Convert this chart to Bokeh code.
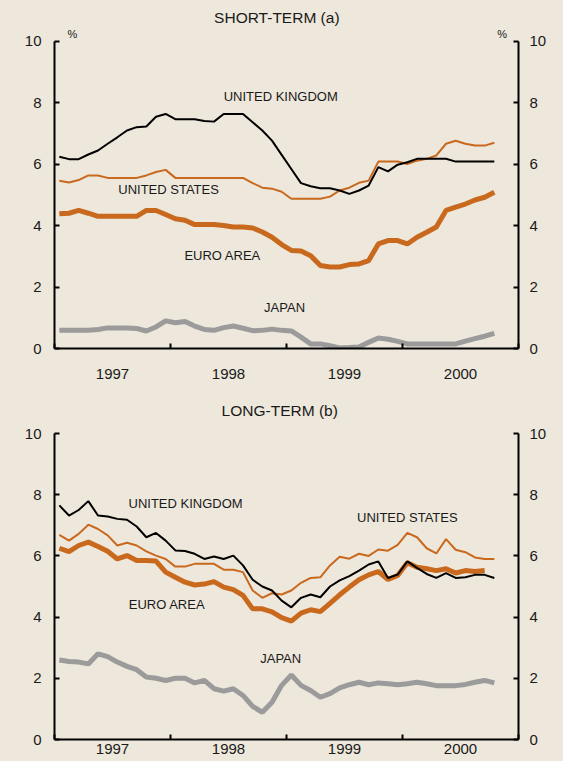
import pandas as pd
from bokeh.plotting import figure
from bokeh.models import Range1d, LinearAxis, FixedTicker, Label
from bokeh.layouts import column
from bokeh.embed import file_html
from bokeh.resources import INLINE

# ---------------- data ----------------
months = pd.date_range("1997-01-01", "2000-10-01", freq="MS")  # monthly observations
years = [1997, 1998, 1999, 2000]
year_labels = ["1997", "1998", "1999", "2000"]
y_ticks = [0, 2, 4, 6, 8, 10]

# Short-term interest rates (%)
uk_short = [6.24, 6.16, 6.16, 6.31, 6.44, 6.66, 6.87, 7.09, 7.20, 7.22,
            7.54, 7.63, 7.46, 7.46, 7.46, 7.40, 7.38, 7.63, 7.63, 7.63,
            7.36, 7.09, 6.76, 6.30, 5.84, 5.38, 5.28, 5.21, 5.21, 5.14,
            5.03, 5.14, 5.30, 5.90, 5.76, 5.98, 6.06, 6.17, 6.17, 6.17,
            6.17, 6.08, 6.08, 6.08, 6.08, 6.08]
us_short = [5.46, 5.40, 5.48, 5.63, 5.63, 5.55, 5.55, 5.55, 5.55, 5.63,
            5.74, 5.81, 5.55, 5.55, 5.55, 5.55, 5.55, 5.55, 5.55, 5.55,
            5.38, 5.23, 5.20, 5.10, 4.87, 4.87, 4.87, 4.87, 4.94, 5.14,
            5.23, 5.39, 5.46, 6.08, 6.08, 6.08, 6.00, 6.11, 6.17, 6.28,
            6.66, 6.76, 6.66, 6.60, 6.60, 6.69]
euro_short = [4.38, 4.40, 4.49, 4.40, 4.30, 4.30, 4.30, 4.30, 4.30, 4.49,
              4.49, 4.36, 4.22, 4.17, 4.03, 4.03, 4.03, 4.00, 3.95, 3.95,
              3.92, 3.79, 3.62, 3.38, 3.19, 3.17, 3.02, 2.70, 2.65, 2.65,
              2.73, 2.75, 2.86, 3.40, 3.51, 3.51, 3.40, 3.62, 3.78, 3.95,
              4.49, 4.60, 4.70, 4.83, 4.92, 5.08]
japan_short = [0.59, 0.59, 0.59, 0.59, 0.62, 0.67, 0.67, 0.67, 0.65, 0.57,
               0.70, 0.90, 0.84, 0.88, 0.73, 0.62, 0.59, 0.68, 0.73, 0.66,
               0.58, 0.59, 0.63, 0.59, 0.57, 0.37, 0.15, 0.15, 0.09, 0.02,
               0.03, 0.05, 0.20, 0.34, 0.30, 0.23, 0.15, 0.15, 0.15, 0.15,
               0.15, 0.15, 0.24, 0.32, 0.40, 0.49]

# Long-term interest rates (%)
uk_long = [7.65, 7.32, 7.50, 7.79, 7.32, 7.29, 7.21, 7.18, 6.96, 6.61,
           6.75, 6.50, 6.18, 6.16, 6.07, 5.90, 5.98, 5.90, 6.01, 5.69,
           5.22, 5.00, 4.87, 4.54, 4.32, 4.63, 4.74, 4.65, 5.00, 5.20,
           5.34, 5.52, 5.72, 5.82, 5.28, 5.39, 5.82, 5.61, 5.41, 5.28,
           5.44, 5.28, 5.30, 5.38, 5.38, 5.28]
us_long = [6.69, 6.50, 6.72, 7.02, 6.88, 6.67, 6.34, 6.43, 6.34, 6.15,
           6.01, 5.90, 5.65, 5.65, 5.74, 5.74, 5.74, 5.55, 5.55, 5.47,
           4.87, 4.63, 4.78, 4.74, 4.87, 5.12, 5.28, 5.30, 5.69, 5.97,
           5.91, 6.07, 6.00, 6.21, 6.17, 6.36, 6.75, 6.61, 6.25, 6.08,
           6.55, 6.20, 6.12, 5.95, 5.90, 5.90]
euro_long = [6.25, 6.14, 6.34, 6.45, 6.31, 6.15, 5.90, 6.01, 5.85, 5.85,
             5.83, 5.47, 5.30, 5.14, 5.05, 5.08, 5.16, 4.98, 4.90, 4.71,
             4.27, 4.27, 4.17, 3.98, 3.87, 4.13, 4.24, 4.18, 4.45, 4.73,
             4.98, 5.22, 5.38, 5.49, 5.23, 5.36, 5.78, 5.63, 5.58, 5.52,
             5.58, 5.44, 5.52, 5.49, 5.52]
japan_long = [2.60, 2.55, 2.53, 2.47, 2.80, 2.71, 2.53, 2.39, 2.28, 2.04,
              2.00, 1.93, 2.00, 2.00, 1.85, 1.93, 1.66, 1.58, 1.66, 1.44,
              1.08, 0.89, 1.22, 1.77, 2.11, 1.77, 1.60, 1.38, 1.50, 1.69,
              1.79, 1.87, 1.79, 1.85, 1.82, 1.79, 1.82, 1.87, 1.82, 1.76,
              1.76, 1.76, 1.80, 1.87, 1.93, 1.85]

# ---------------- styles ----------------
BG = "#EEE7DB"
ORANGE = "#C8691E"
GREY = "#9B9B9B"
BLACK = "#000000"
TXT = "#1a1a1a"
FONT = "Liberation Sans"

# month index (mid-month) from Jan 1997
xm = [(d.year - 1997) * 12 + (d.month - 1) + 0.5 for d in months]
mid_year = [(y - 1997) * 12 + 6 for y in years]
year_bounds = [(y - 1997) * 12 for y in years + [years[-1] + 1]]


def make_panel(height, y_top, b_left, b_right, b_bottom, xstand):
    # frame runs to the top of the figure; axes are drawn only from 0 to 10
    p = figure(width=563, height=height, x_range=Range1d(0, 48), y_range=Range1d(0, y_top),
               output_backend="svg", toolbar_location=None,
               background_fill_color=BG, border_fill_color=BG,
               min_border_left=b_left, min_border_right=b_right,
               min_border_top=0, min_border_bottom=b_bottom,
               outline_line_color=None)
    p.grid.visible = False
    xa = p.xaxis[0]
    xa.ticker = FixedTicker(ticks=mid_year, minor_ticks=year_bounds)
    xa.major_label_overrides = {m: lab for m, lab in zip(mid_year, year_labels)}
    xa.major_tick_in = 0
    xa.major_tick_out = 0
    xa.minor_tick_in = 5
    xa.minor_tick_out = 0
    xa.minor_tick_line_width = 2
    xa.axis_line_width = 2
    xa.major_label_standoff = xstand
    xa.major_label_text_font_size = "15px"
    xa.major_label_text_font = FONT
    xa.major_label_text_color = TXT
    ya = p.yaxis[0]
    ra = LinearAxis()
    p.add_layout(ra, "right")
    for ax, st in ((ya, 13), (ra, 11)):
        ax.ticker = FixedTicker(ticks=y_ticks)
        ax.bounds = (y_ticks[0], y_ticks[-1])
        ax.major_tick_in = 5
        ax.major_tick_out = 0
        ax.minor_tick_in = 0
        ax.minor_tick_out = 0
        ax.major_tick_line_width = 2
        ax.axis_line_width = 2
        ax.major_label_standoff = st
        ax.major_label_text_font_size = "15px"
        ax.major_label_text_font = FONT
        ax.major_label_text_color = TXT
    return p


def add_series(p, xs, jp, eu, us, uk):
    p.line(xs[:len(jp)], jp, line_color=GREY, line_width=5)
    p.line(xs[:len(eu)], eu, line_color=ORANGE, line_width=5)
    p.line(xs[:len(us)], us, line_color=ORANGE, line_width=2)
    p.line(xs[:len(uk)], uk, line_color=BLACK, line_width=2)


def lab(p, x, y, text, size="13px"):
    p.add_layout(Label(x=x, y=y, text=text, text_align="center", text_baseline="middle",
                       text_font=FONT, text_font_size=size, text_color=TXT))


# ---------------- top panel ----------------
p1 = make_panel(392, 11.32, 49, 45, 44, 20)
add_series(p1, xm, japan_short, euro_short, us_short, uk_short)
lab(p1, 23.0, 10.76, "SHORT-TERM (a)", "15.5px")
lab(p1, 1.86, 10.23, "%", "11px")
lab(p1, 46.3, 10.23, "%", "11px")
lab(p1, 23.4, 8.2, "UNITED KINGDOM")
lab(p1, 11.8, 5.17, "UNITED STATES")
lab(p1, 17.4, 3.02, "EURO AREA")
lab(p1, 23.8, 1.34, "JAPAN")

# ---------------- bottom panel ----------------
p2 = make_panel(369, 11.34, 54, 45, 22, 4)
add_series(p2, xm, japan_long, euro_long, us_long, uk_long)
lab(p2, 23.3, 10.75, "LONG-TERM (b)", "15.5px")
lab(p2, 13.56, 7.7, "UNITED KINGDOM")
lab(p2, 11.64, 4.4, "EURO AREA")
lab(p2, 36.5, 7.24, "UNITED STATES")
lab(p2, 23.4, 2.64, "JAPAN")

layout = column(p1, p2, spacing=0, styles={"background-color": BG})
open("out.html", "w").write(file_html(layout, INLINE))
